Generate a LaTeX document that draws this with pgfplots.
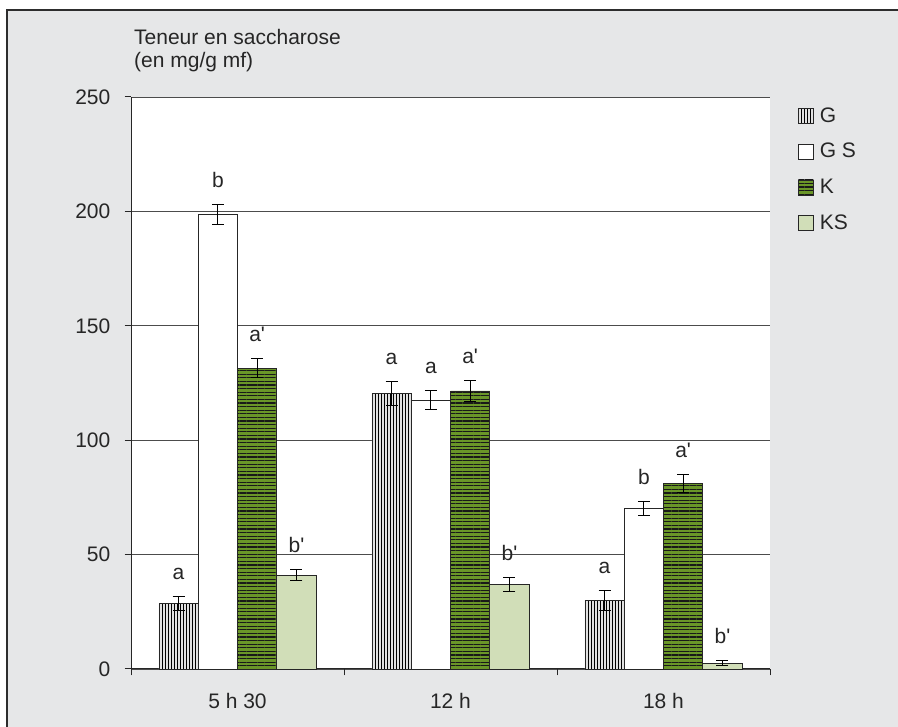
\documentclass[border=0pt]{standalone}
\usepackage{fontspec}
\setmainfont{Liberation Sans}
\usepackage{pgfplots}
\pgfplotsset{compat=1.18}
\usepackage{pgfplotstable}
\usetikzlibrary{patterns.meta}

\definecolor{panel}{RGB}{230,231,232}
\definecolor{frameline}{RGB}{45,45,45}
\definecolor{kgreen}{RGB}{106,150,40}
\definecolor{ksgreen}{RGB}{209,222,184}
\definecolor{gbase}{RGB}{225,225,225}

\newcommand{\chartfont}{\fontsize{21}{25}\selectfont}

% x = time slot (0: 5 h 30, 1: 12 h, 2: 18 h), y = mean, err = half error bar, lab = group letter
\pgfplotstableread{
x y err lab
0 28.5 3.0 a
1 120.5 5.3 a
2 30 4.5 a
}\tabG
\pgfplotstableread{
x y err lab
0 198.5 4.4 b
1 117.5 4.0 a
2 70 3.0 b
}\tabGS
\pgfplotstableread{
x y err lab
0 131.5 4.0 a\textquotesingle
1 121.5 4.7 a\textquotesingle
2 81 4.0 a\textquotesingle
}\tabK
\pgfplotstableread{
x y err lab
0 41 2.3 b\textquotesingle
1 37 3.0 b\textquotesingle
2 2.5 1.0 b\textquotesingle
}\tabKS

\pgfplotsset{
  sqlegend/.style={legend image code/.code={
      \draw[##1, line width=0.8pt] (0pt,-9pt) rectangle (15pt,6pt);}},
}

\begin{document}
\begin{tikzpicture}
\useasboundingbox (0pt,0pt) rectangle (898pt,727pt);
\fill[white] (0pt,0pt) rectangle (898pt,727pt);
\fill[panel] (7pt,0pt) rectangle (898pt,717pt);
\draw[frameline, line width=1.5pt] (7pt,0pt) -- (7pt,717pt) -- (898pt,717pt);

\node[anchor=base west, inner sep=0pt, font=\chartfont, text=black!85] at (134pt,682.7pt) {Teneur en saccharose};
\node[anchor=base west, inner sep=0pt, font=\chartfont, text=black!85] at (134pt,659.3pt) {(en mg/g mf)};

\begin{axis}[
  at={(131pt,58pt)}, anchor=south west,
  scale only axis, width=639pt, height=572pt,
  ybar=0pt, bar width=39.3pt,
  xmin=-0.5, xmax=2.5, ymin=0, ymax=250,
  enlargelimits=false, clip=false,
  xtick={-0.5,0.5,1.5,2.5},
  x tick label as interval,
  xticklabels={5 h 30,12 h,18 h},
  ytick={0,50,100,150,200,250},
  axis x line*=bottom, axis y line*=left,
  axis line style={-, draw=black!85, line width=1pt},
  tick align=outside, major tick length=6.5pt,
  tick style={draw=black!85, line width=1pt},
  ymajorgrids, grid style={draw=black!70, line width=0.9pt},
  axis background/.style={fill=white},
  /pgf/number format/assume math mode=true,
  tick label style={font=\chartfont, text=black!85},
  xticklabel style={inner sep=0pt, anchor=north, yshift=-18pt},
  yticklabel style={inner sep=0pt, anchor=east, xshift=-14pt},
  legend style={at={(1.0438,0.9825)}, anchor=north west, draw=none, fill=none,
    inner sep=0pt, outer sep=0pt, row sep=18.8pt, column sep=6pt, font=\chartfont,
    text=black!85,
    nodes={inner sep=0pt, text height=15pt, text depth=0pt}},
  legend cell align=left,
  error bars/y dir=both, error bars/y explicit,
  error bars/error bar style={black, line width=1pt},
  error bars/error mark options={rotate=90, mark size=6pt, line width=1pt, black},
  nodes near coords, point meta=explicit symbolic,
  visualization depends on={\thisrow{err} \as \errv},
  nodes near coords style={anchor=base, inner sep=0pt, text=black!85, font=\chartfont,
    yshift=17pt+\errv*2.288pt},
]
\addplot[draw=black!85, line width=0.8pt, fill=gbase,
  postaction={pattern={Lines[angle=90, distance=3pt, line width=0.9pt]}, pattern color=black},
  sqlegend]
  table[x=x, y=y, y error=err, meta=lab] {\tabG};
\addplot[draw=black!85, line width=0.8pt, fill=white, sqlegend]
  table[x=x, y=y, y error=err, meta=lab] {\tabGS};
\addplot[draw=black!85, line width=0.8pt, fill=kgreen,
  postaction={pattern={Lines[angle=0, distance=3.6pt, line width=1.2pt]}, pattern color=black!90},
  sqlegend]
  table[x=x, y=y, y error=err, meta=lab] {\tabK};
\addplot[draw=black!85, line width=0.8pt, fill=ksgreen, sqlegend]
  table[x=x, y=y, y error=err, meta=lab] {\tabKS};
\legend{G,G S,K,KS}
\end{axis}
\end{tikzpicture}
\end{document}
